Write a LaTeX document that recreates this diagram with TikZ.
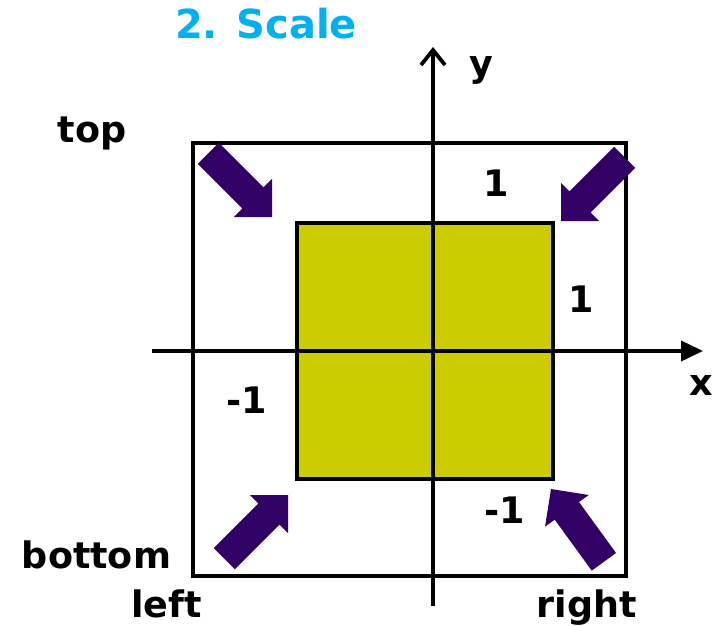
\documentclass[tikz,border=0pt]{standalone}
\usepackage{fontspec}
\setmainfont{DejaVu Sans}
\usetikzlibrary{arrows.meta}
\definecolor{titleblue}{RGB}{0,176,240}
\definecolor{arrowpurple}{RGB}{51,0,102}
\definecolor{boxyellow}{RGB}{204,204,0}
\newcommand\blockarrow[2]{%
  \fill[arrowfill, shift={#1}, rotate=#2]
    (0,0) -- (-27,27) -- (-27,15) -- (-90,15) -- (-90,-15)
    -- (-27,-15) -- (-27,-27) -- cycle;}
\begin{document}
\begin{tikzpicture}[x=1pt,y=-1pt,
  lab/.style={font=\bfseries\fontsize{36.5}{44}\selectfont, anchor=base, inner sep=0pt},
  titlelab/.style={font=\bfseries\fontsize{40}{48}\selectfont, anchor=base, inner sep=0pt, text=titleblue},
  frame/.style={draw=black, line width=4.2pt},
  inner/.style={draw=black, line width=3.4pt, fill=boxyellow},
  axis/.style={draw=black, line width=3.8pt},
  arrowfill/.style={fill=arrowpurple}]
\useasboundingbox (0,0) rectangle (725,626);
% outer frame
\draw[frame] (193,143) rectangle (626,576);
% yellow square
\draw[inner] (297,223) rectangle (553,479);
% axes
\coordinate (xs) at (152,351);
\coordinate (xe) at (703,351);
\coordinate (ys) at (433,606);
\coordinate (ye) at (433,47);
\draw[axis, -{Triangle[length=22pt,width=20pt]}] (xs) -- (xe);
\draw[axis, -{Straight Barb[length=15pt,width=24pt,line width=3.8pt]}] (ys) -- (ye);
% block arrows
\blockarrow{(272,217)}{-45}
\blockarrow{(561,221)}{-135}
\blockarrow{(288,495)}{45}
\blockarrow{(551,489)}{126}
% labels
\node[titlelab] (title) at (266,38) {2. Scale};
\node[lab] (ylab) at (481,77) {y};
\node[lab] (xlab) at (701,395) {x};
\node[lab] (top) at (92,142) {top};
\node[lab] (bottom) at (96.5,568) {bottom};
\node[lab] (left) at (166.5,617) {left};
\node[lab] (right) at (587,617) {right};
\node[lab] (one1) at (496,196) {1};
\node[lab] (one2) at (581,312) {1};
\node[lab] (mone1) at (247,413) {-1};
\node[lab] (mone2) at (505,523) {-1};
\end{tikzpicture}
\end{document}
